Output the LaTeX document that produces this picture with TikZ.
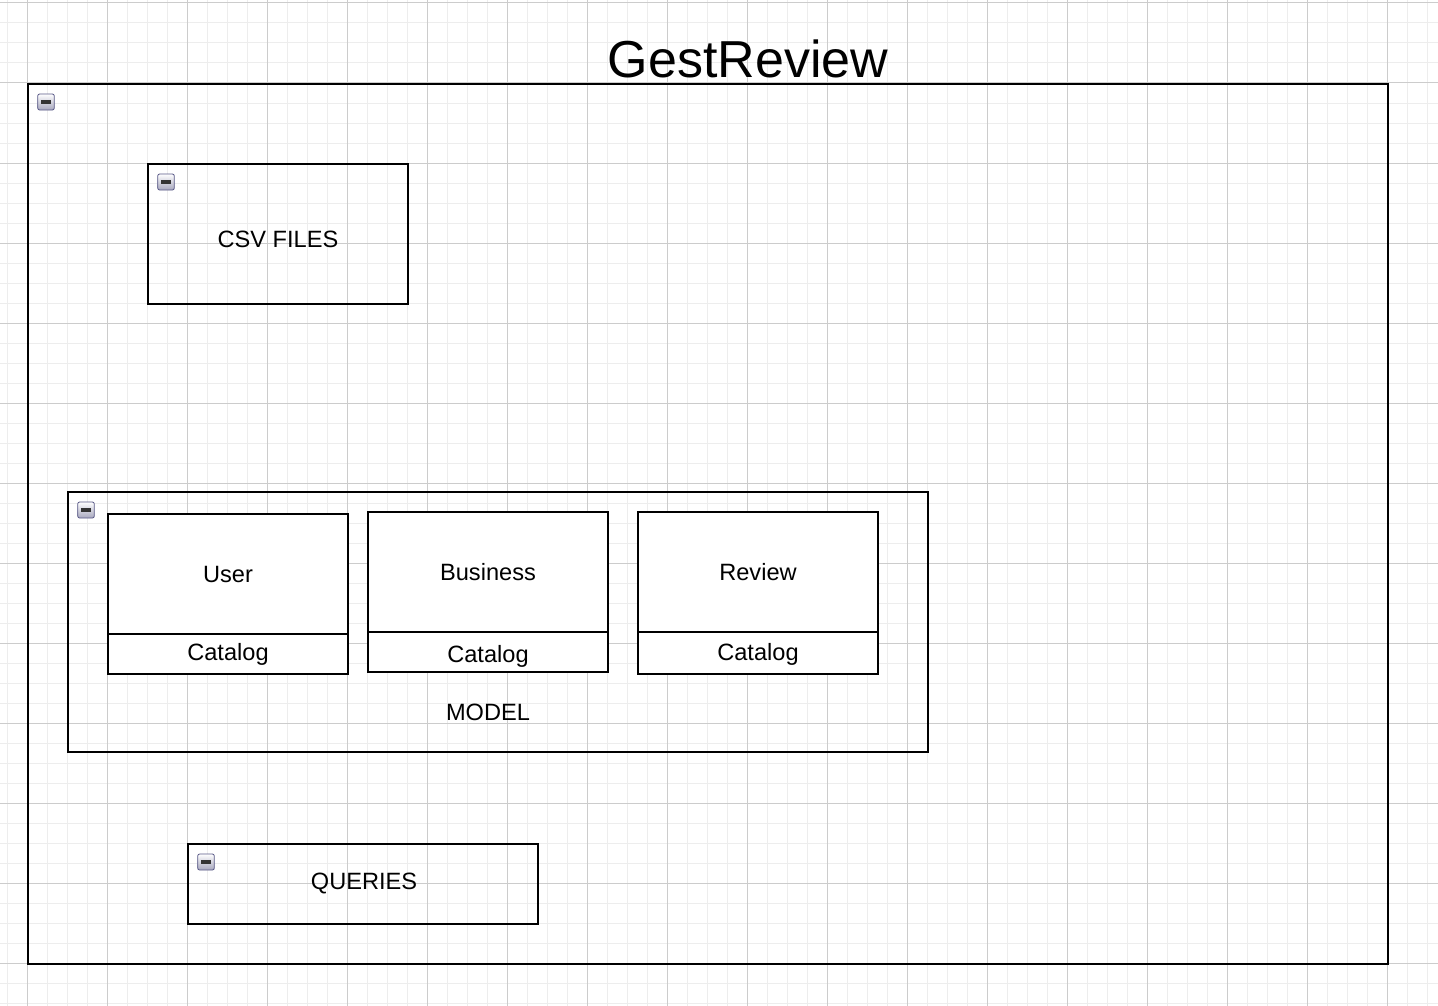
\documentclass[tikz,border=0pt]{standalone}
\usepackage{fontspec}
\setmainfont{Liberation Sans}
\begin{document}
\begin{tikzpicture}[x=0.75pt,y=-0.75pt,
  minorline/.style={draw=black!7,line width=0.75pt},
  majorline/.style={draw=black!20,line width=0.75pt},
  container/.style={draw=black,line width=1.5pt,inner sep=0pt},
  cellbox/.style={draw=black,line width=1.5pt,fill=white,inner sep=0pt,minimum width=180pt},
  lbl/.style={font=\fontsize{17.7pt}{20pt}\selectfont,inner sep=0pt,yshift=-0.8pt},
  collapse/.style={minimum width=12.5pt,minimum height=12pt,inner sep=0pt,rounded corners=1.5pt,
    draw=black!40!blue!30!gray,line width=0.6pt,top color=white,bottom color=blue!15!gray!60,
    path picture={\fill[black!80,sharp corners] ([xshift=2.8pt,yshift=-1.2pt]path picture bounding box.west) rectangle ([xshift=-2.8pt,yshift=1.2pt]path picture bounding box.east);}}
]
\useasboundingbox (0,0) rectangle (1438,1006);
\fill[white] (0,0) rectangle (1438,1006);
% grid
\foreach \x in {7,27,...,1438} \draw[minorline] (\x,0) -- (\x,1006);
\foreach \y in {3,23,...,1006} \draw[minorline] (0,\y) -- (1438,\y);
\foreach \x in {27,107,...,1438} \draw[majorline] (\x,0) -- (\x,1006);
\foreach \y in {3,83,...,1006} \draw[majorline] (0,\y) -- (1438,\y);

% title
\node[font=\fontsize{39pt}{44pt}\selectfont,inner sep=0pt] (title) at (748,59) {GestReview};

% outer container
\node[container,minimum width=1020pt,minimum height=660pt] (outer) at (708,524) {};
\node[collapse] (iconouter) at (46,102) {};

% CSV FILES
\node[container,minimum width=195pt,minimum height=105pt] (csv) at (278,234) {};
\node[lbl] (csvlabel) at (278,238) {CSV FILES};
\node[collapse] (iconcsv) at (166,182) {};

% MODEL
\node[container,minimum width=645pt,minimum height=195pt] (model) at (498,622) {};
\node[lbl] (modellabel) at (488,711) {MODEL};
\node[collapse] (iconmodel) at (86,510) {};

\node[cellbox,minimum height=90pt] (user) at (228,574) {};
\node[lbl] (userlabel) at (228,573) {User};
\node[cellbox,minimum height=30pt] (usercat) at (228,654) {};
\node[lbl] (usercatlabel) at (228,653) {Catalog};

\node[cellbox,minimum height=90pt] (business) at (488,572) {};
\node[lbl] (businesslabel) at (488,571) {Business};
\node[cellbox,minimum height=30pt] (businesscat) at (488,652) {};
\node[lbl] (businesscatlabel) at (488,655) {Catalog};

\node[cellbox,minimum height=90pt] (review) at (758,572) {};
\node[lbl] (reviewlabel) at (758,571) {Review};
\node[cellbox,minimum height=31.5pt] (reviewcat) at (758,653) {};
\node[lbl] (reviewcatlabel) at (758,653) {Catalog};

% QUERIES
\node[container,minimum width=262.5pt,minimum height=60pt] (queries) at (363,884) {};
\node[lbl] (querieslabel) at (364,882) {QUERIES};
\node[collapse] (iconqueries) at (206,862) {};
\end{tikzpicture}
\end{document}
